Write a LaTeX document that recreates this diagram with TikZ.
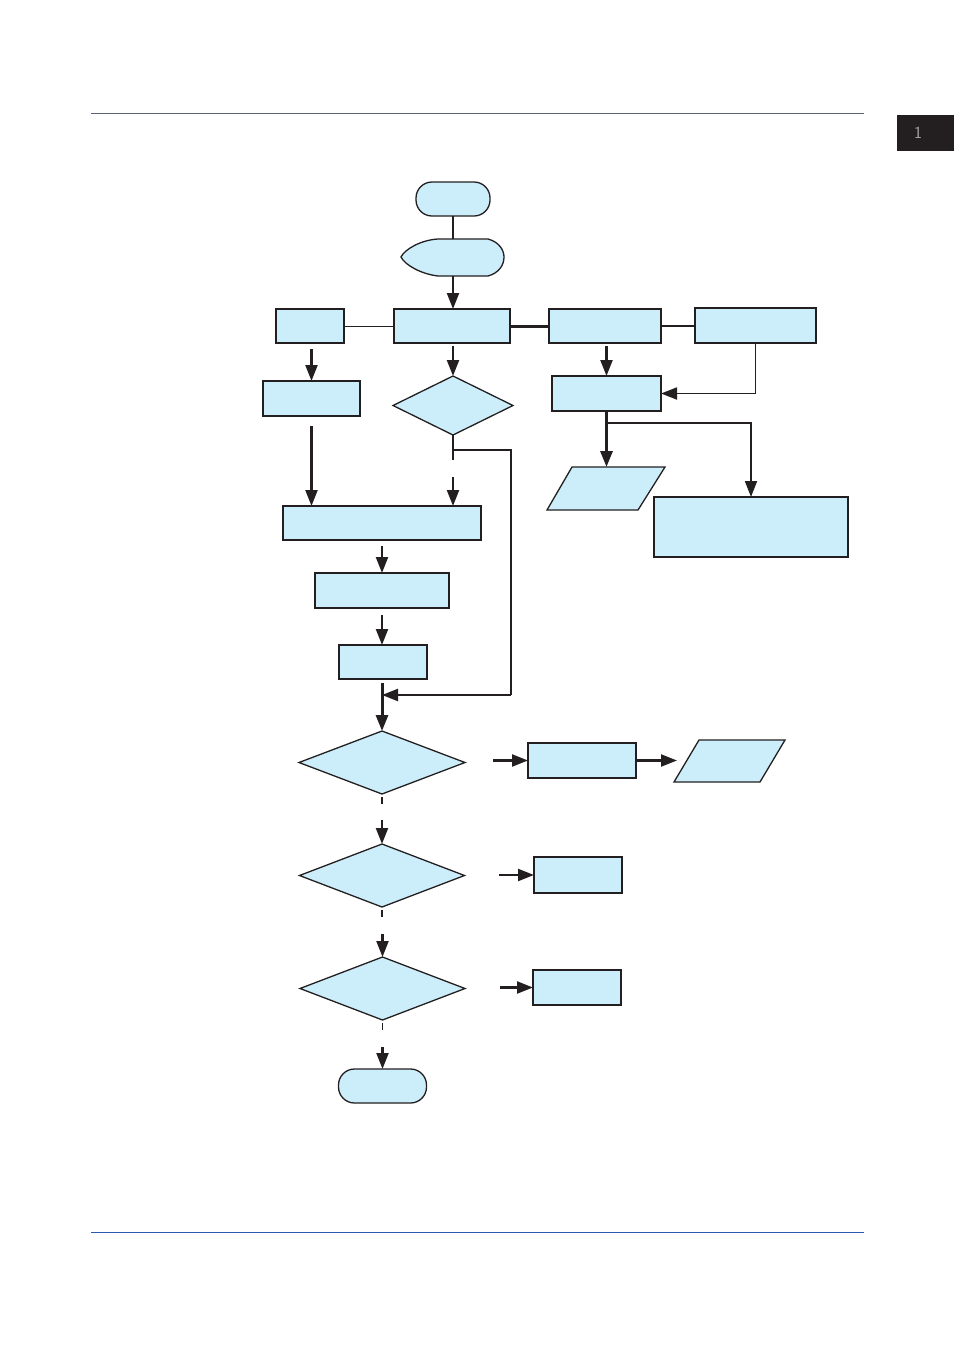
\documentclass[tikz,border=0pt]{standalone}
\usetikzlibrary{arrows.meta,shapes.geometric,calc}
\definecolor{boxfill}{RGB}{204,238,250}
\definecolor{ink}{RGB}{35,31,32}
\definecolor{rulegray}{RGB}{90,100,120}
\definecolor{ruleblue}{RGB}{40,90,180}
\begin{document}
\begin{tikzpicture}[x=1pt,y=-1pt,
  box/.style={draw=ink,line width=1.7pt,fill=boxfill,inner sep=0pt,outer sep=0pt},
  term/.style={box,line width=1.3pt,rounded corners=16pt},
  dec/.style={diamond,draw=ink,line width=1.3pt,fill=boxfill,inner sep=0pt,outer sep=0pt},
  tip/.style={-{Triangle[length=16pt,width=12pt]}},
  arr/.style={draw=ink,line width=2.2pt,tip},
  thin line/.style={draw=ink,line width=0.9pt},
  mid line/.style={draw=ink,line width=1.8pt},
  thick line/.style={draw=ink,line width=3pt}
]
\useasboundingbox (0,0) rectangle (954,1350);
% page rules and tab
\draw[rulegray,line width=0.7pt] (91,113) -- (864,113);
\draw[ruleblue,line width=0.8pt] (91,1232) -- (864,1232);
\fill[ink] (897,115) rectangle (954,151);
\node[text=gray!70,font=\sffamily\fontsize{17}{18}\selectfont] (tab) at (918,133) {1};

% top part
\node[term,minimum width=74pt,minimum height=34pt] (start) at (453,199) {};
\path[box,line width=1.3pt] (438,239) -- (488,239) .. controls (499,242) and (504,250) .. (504,257)
  .. controls (504,265) and (499,273) .. (488,276) -- (438,276)
  .. controls (421,274) and (405,265) .. (401,257)
  .. controls (405,249) and (421,240) .. (438,239) -- cycle;
\coordinate (disptop) at (453,239);
\coordinate (dispbot) at (453,276);

\node[box,minimum width=116pt,minimum height=34pt] (B1) at (452,326) {};
\node[box,minimum width=68pt,minimum height=34pt] (L1) at (310,326) {};
\node[box,minimum width=112pt,minimum height=34pt] (R1) at (605,326) {};
\node[box,minimum width=121pt,minimum height=35pt] (R2) at (755.5,325.5) {};
\node[box,minimum width=97pt,minimum height=35pt] (L2) at (311.5,398.5) {};
\node[dec,minimum width=120pt,minimum height=59pt] (D1) at (453,405.5) {};
\node[box,minimum width=109pt,minimum height=35pt] (R3) at (606.5,393.5) {};
\path[box,line width=1.3pt] (547,510) -- (572,467) -- (665,467) -- (638,510) -- cycle;
\coordinate (P1top) at (606.5,467);
\node[box,minimum width=194pt,minimum height=60pt] (R4) at (751,527) {};

\node[box,minimum width=198pt,minimum height=34pt] (W) at (382,523) {};
\node[box,minimum width=134pt,minimum height=35pt] (M) at (382,590.5) {};
\node[box,minimum width=88pt,minimum height=34pt] (S) at (383,662) {};

\node[dec,minimum width=166pt,minimum height=63pt] (D2) at (382,762.5) {};
\node[box,minimum width=108pt,minimum height=35pt] (E1) at (582,760.5) {};
\path[box,line width=1.3pt] (674,782) -- (699,740) -- (785,740) -- (760,782) -- cycle;
\coordinate (P2left) at (677,761);
\node[dec,minimum width=165pt,minimum height=63pt] (D3) at (382,875.5) {};
\node[box,minimum width=88pt,minimum height=36pt] (E2) at (578,875) {};
\node[dec,minimum width=165pt,minimum height=63pt] (D4) at (382.5,988.5) {};
\node[box,minimum width=88pt,minimum height=35pt] (E3) at (577,987.5) {};
\node[term,minimum width=88pt,minimum height=34pt] (end) at (382.5,1086) {};

% connectors top
\draw[mid line] (start.south) -- (disptop);
\draw[arr] (dispbot) -- (dispbot |- B1.north);
\draw[thin line] (L1.east) -- (B1.west);
\draw[thick line] (B1.east) -- (R1.west);
\draw[mid line] (R1.east) -- (R1.east -| R2.west);
\draw[arr] ([yshift=-6pt]L2.north |- L1.south) -- (L2.north);
\draw[arr] ([yshift=-3pt]D1.north |- B1.south) -- (D1.north);
\draw[arr] ([yshift=-3pt]R3.north |- R1.south) -- (R3.north);
\draw[mid line,tip] (R2.south) |- (R3.east);
\draw[thick line,tip] (R3.south) -- (P1top);
\coordinate (br) at (606.5,423);
\draw[mid line,tip] (br) -| (R4.north);

% D1 exits
\coordinate (d1a) at (453,460);
\coordinate (d1b) at (453,450);
\coordinate (d1c) at (511,450);
\coordinate (d1d) at (511,695);
\draw[mid line] (D1.south) -- (d1a);
\draw[arr] (453,477) -- (W.north -| d1a);
\draw[mid line] (d1b) -- (d1c) -- (d1d);
\draw[arr] (d1d) -- (d1d -| D2.north);

% left column
\draw[arr] ([yshift=-10pt]L2.south) -- (W.north -| L2.south);
\draw[arr] ([yshift=-6pt]W.south) -- (M.north);
\draw[arr] ([yshift=-7pt]M.south) -- (S.north -| M.south);
\draw[thick line,tip] ([yshift=-4pt]D2.north |- S.south) -- (D2.north);

% decisions
\draw[mid line] ([yshift=-3pt]D2.south) -- ([yshift=-10pt]D2.south);
\draw[arr] ([yshift=-26pt]D2.south) -- (D3.north);
\draw[arr] (493,760.5) -- (E1.west);
\draw[arr] (E1.east) -- (E1.east -| P2left);

\draw[arr] (499,875) -- (E2.west);
\draw[mid line] ([yshift=-3pt]D3.south) -- ([yshift=-10pt]D3.south);
\draw[arr] ([yshift=-27pt]D4.north |- D3.south) -- (D4.north);

\draw[arr] (500,987.5) -- (E3.west);
\draw[mid line] ([yshift=-3pt]D4.south) -- ([yshift=-10pt]D4.south);
\draw[arr] ([yshift=-27pt]D4.south) -- (end.north);
\end{tikzpicture}
\end{document}
